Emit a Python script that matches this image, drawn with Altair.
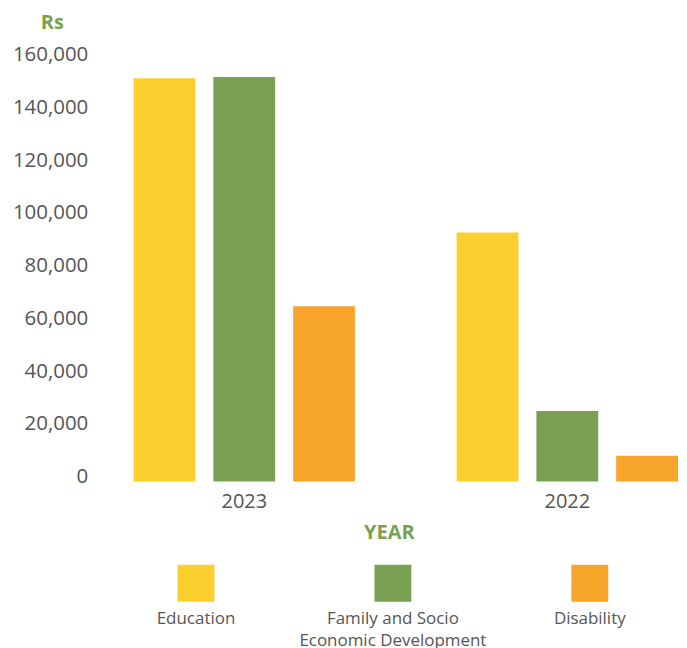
import altair as alt
import pandas as pd

years = ["2023", "2022"]
categories = ["Education", "Family and Socio Economic Development", "Disability"]
education = [153000, 94500]
family = [153500, 26800]
disability = [66500, 9800]
colors = ["#FBCF2E", "#7AA052", "#F8A52C"]
legend_labels = ["Education", "Family and Socio\nEconomic Development", "Disability"]
y_ticks = [0, 20000, 40000, 60000, 80000, 100000, 120000, 140000, 160000]

rows = []
for i, y in enumerate(years):
    rows.append({"year": y, "category": categories[0], "value": education[i]})
    rows.append({"year": y, "category": categories[1], "value": family[i]})
    rows.append({"year": y, "category": categories[2], "value": disability[i]})
df = pd.DataFrame(rows)
legdf = pd.DataFrame({"category": categories, "label": legend_labels})

FONT = "Open Sans"
GREEN = "#78A24F"
GREY = "#555555"

bars = alt.Chart(df).mark_bar().encode(
    x=alt.X(
        "year:N", sort=years,
        scale=alt.Scale(paddingInner=0.31, paddingOuter=0.0516, align=0.993),
        axis=alt.Axis(
            title="YEAR", domain=False, ticks=False, labelAngle=0,
            labelFontSize=20, labelColor=GREY, labelFont=FONT, labelPadding=10,
            titleFont=FONT, titleFontSize=20, titleFontWeight="bold", titleColor=GREEN,
            titleX=290, titleY=51, titleBaseline="middle", titleAlign="center",
        ),
    ),
    xOffset=alt.XOffset("category:N", sort=categories,
                        scale=alt.Scale(paddingInner=0.225, paddingOuter=0.00975)),
    y=alt.Y(
        "value:Q", scale=alt.Scale(domain=[0, 160000]),
        axis=alt.Axis(
            values=y_ticks, grid=False, domain=False, ticks=False,
            labelFontSize=20.5, labelColor=GREY, labelFont=FONT, labelPadding=12,
            labelOffset=-5,
            title="Rs", titleAngle=0, titleX=-48, titleY=-37, titleAlign="center",
            titleBaseline="middle", titleFont=FONT, titleFontSize=20,
            titleFontWeight="bold", titleColor=GREEN,
        ),
    ),
    color=alt.Color("category:N", scale=alt.Scale(domain=categories, range=colors), legend=None),
).properties(width=581, height=423)

leg_base = alt.Chart(legdf).encode(
    x=alt.X("category:N", sort=categories, axis=None,
            scale=alt.Scale(type="point", padding=0.471, align=0.519)),
)
squares = leg_base.mark_point(shape="square", filled=True, size=1369, opacity=1).encode(
    color=alt.Color("category:N", scale=alt.Scale(domain=categories, range=colors), legend=None)
)
texts = leg_base.mark_text(baseline="top", dy=28, fontSize=17, lineBreak="\n",
                           lineHeight=22, color=GREY, font=FONT).encode(text="label:N")
legend = alt.layer(squares, texts).properties(width=581, height=40)

chart = alt.vconcat(bars, legend, spacing=21).properties(
    padding={"left": 4, "top": 4, "right": 0, "bottom": 0}
).configure_view(stroke=None)

chart.save("out.html", embed_options={"renderer": "svg", "actions": False})
